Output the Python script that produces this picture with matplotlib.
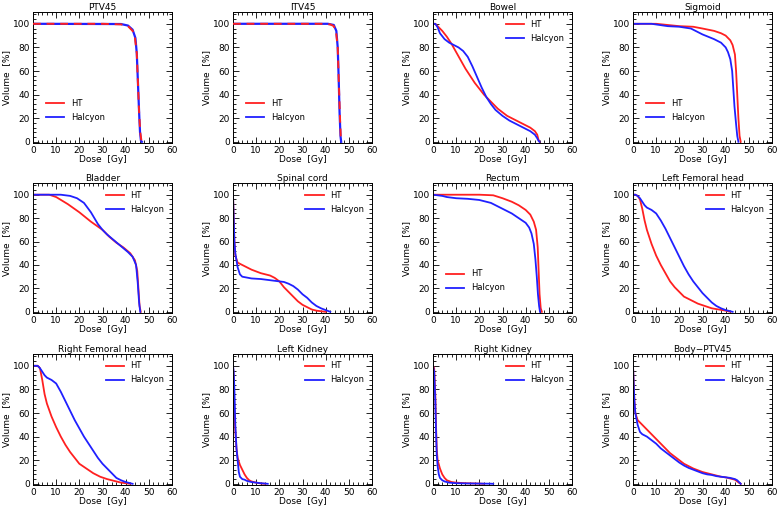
import matplotlib
matplotlib.use('Agg')
import matplotlib.pyplot as plt
from matplotlib.lines import Line2D
from matplotlib.ticker import AutoMinorLocator

# dose [Gy] / volume [%] points
ptv45_ht_d = [0, 30, 38, 41, 43, 44, 44.8, 45.3, 45.8, 46.3, 46.8, 47.2]
ptv45_ht_v = [100, 100, 99.5, 98, 94, 88, 75, 50, 25, 8, 1, 0]
ptv45_hal_d = [0, 38, 41, 43, 44.2, 44.8, 45.3, 45.8, 46.2, 46.6, 47]
ptv45_hal_v = [100, 99.8, 98.5, 95, 88, 75, 50, 25, 8, 1, 0]

itv45_ht_d = [0, 38, 42, 43.5, 44.5, 45.2, 45.6, 46.1, 46.5, 46.8]
itv45_ht_v = [100, 100, 99.5, 98, 93, 80, 55, 25, 5, 0]
itv45_hal_d = [0, 41, 43.5, 44.6, 45.2, 45.6, 46, 46.4, 46.7]
itv45_hal_v = [100, 100, 99, 94, 80, 55, 25, 5, 0]

bowel_ht_d = [0, 1, 2, 4, 6, 8, 10, 12, 14, 16, 18, 20, 22, 24, 26, 28, 30, 32, 34, 36, 38, 40, 42, 44, 45, 45.5, 46]
bowel_ht_v = [100, 100, 98, 94, 89, 83, 76, 69, 62, 56, 50, 45, 40, 36, 32, 28, 25, 22, 20, 18, 16, 14, 12, 9, 6, 2, 0]
bowel_hal_d = [0, 1, 2, 3, 5, 7, 9, 11, 13, 15, 17, 19, 21, 23, 25, 27, 30, 33, 36, 39, 42, 44, 45, 45.5, 46]
bowel_hal_v = [100, 100, 97, 92, 87, 84, 82, 80, 77, 72, 64, 55, 46, 38, 32, 27, 22, 18, 15, 12, 9, 6, 3, 1, 0]

sigmoid_ht_d = [0, 10, 20, 26, 30, 35, 38, 40, 42, 43, 44, 44.5, 45, 45.5, 46, 46.5]
sigmoid_ht_v = [100, 100, 98, 97.5, 96, 94, 92, 90, 86, 82, 74, 60, 40, 20, 5, 0]
sigmoid_hal_d = [0, 8, 15, 20, 25, 30, 35, 38, 40, 41, 42, 42.8, 43.3, 43.8, 44.5, 45, 45.5]
sigmoid_hal_v = [100, 100, 98, 97.5, 96, 91, 87, 84, 80, 76, 70, 60, 45, 30, 15, 5, 0]

bladder_ht_d = [0, 7, 10, 15, 20, 25, 30, 33, 36, 39, 42, 44, 45, 45.5, 46, 46.5]
bladder_ht_v = [100, 100, 98, 92, 85, 77, 70, 64, 59, 55, 50, 44, 35, 20, 5, 0]
bladder_hal_d = [0, 12, 16, 19, 22, 25, 28, 30, 32, 35, 38, 41, 43, 44.5, 45.2, 45.8, 46.3]
bladder_hal_v = [100, 100, 99, 97, 93, 85, 75, 70, 66, 61, 56, 51, 47, 40, 25, 8, 0]

cord_ht_d = [0, 0.3, 0.6, 1, 2, 4, 8, 12, 16, 18, 20, 22, 24, 26, 28, 30, 32, 34, 36, 38, 40]
cord_ht_v = [100, 80, 60, 48, 42, 40, 36, 33, 31, 29, 26, 21, 17, 13, 9, 6, 4, 2, 1, 0.5, 0]
cord_hal_d = [0, 0.3, 0.6, 1, 2, 3, 4, 8, 12, 16, 20, 22, 24, 26, 28, 30, 32, 34, 36, 38, 40, 42]
cord_hal_v = [100, 80, 60, 50, 38, 32, 30, 28.5, 28, 27, 26, 25.5, 24, 22, 19, 15, 12, 8, 5, 3, 1.5, 0]

rectum_ht_d = [0, 5, 20, 26, 30, 34, 37, 40, 42, 43.5, 44.5, 45.2, 45.6, 46, 46.5, 47]
rectum_ht_v = [100, 100, 100, 99.5, 97, 94, 91, 87, 83, 77, 70, 55, 35, 15, 3, 0]
rectum_hal_d = [0, 4, 6, 10, 15, 20, 25, 30, 34, 37, 40, 41.5, 42.5, 43.5, 44.2, 44.8, 45.3, 45.8, 46.2]
rectum_hal_v = [100, 99, 98, 97, 96.5, 95.5, 93, 88, 84, 80, 76, 72, 67, 58, 45, 30, 15, 5, 0]

lfem_ht_d = [0, 1, 2, 3, 4, 5, 6, 8, 10, 12, 14, 16, 18, 20, 22, 25, 28, 31, 34, 37, 40, 42]
lfem_ht_v = [100, 100, 99, 96, 88, 78, 70, 58, 48, 40, 33, 26, 21, 17, 13, 10, 7, 5, 3, 2, 1, 0]
lfem_hal_d = [0, 1, 2, 3, 4, 5, 6, 8, 10, 12, 14, 16, 18, 20, 22, 24, 26, 28, 30, 32, 34, 36, 38, 40, 42, 43]
lfem_hal_v = [100, 100, 99, 97, 94, 91, 89, 87, 84, 78, 71, 63, 55, 47, 39, 32, 26, 21, 16, 12, 8, 5, 3, 1.5, 0.5, 0]

rfem_ht_d = [0, 2, 3, 4, 5, 6, 8, 10, 12, 14, 16, 18, 20, 23, 26, 29, 32, 35, 38, 40, 42]
rfem_ht_v = [100, 100, 98, 88, 76, 68, 57, 48, 40, 33, 27, 22, 17, 13, 9, 6, 4, 2.5, 1, 0.5, 0]
rfem_hal_d = [0, 2, 3, 4, 5, 6, 8, 10, 12, 14, 16, 18, 20, 22, 24, 26, 28, 30, 32, 34, 36, 38, 40, 42, 43]
rfem_hal_v = [100, 100, 98, 95, 92, 90, 88, 85, 78, 70, 62, 54, 47, 40, 34, 28, 22, 17, 13, 9, 5, 3, 1.5, 0.5, 0]

lkid_ht_d = [0, 0.3, 0.6, 1, 1.5, 2, 3, 4, 5, 6, 7, 8, 10, 12, 14]
lkid_ht_v = [100, 90, 60, 45, 30, 22, 16, 12, 8, 5, 3, 2, 1, 0.3, 0]
lkid_hal_d = [0, 0.3, 0.6, 1, 1.5, 2, 2.5, 3, 4, 5, 6, 8, 10, 12, 14, 15]
lkid_hal_v = [100, 95, 80, 50, 30, 20, 10, 6, 4, 3.5, 2.5, 1.5, 1, 0.5, 0.2, 0]

rkid_ht_d = [0, 0.5, 1, 1.3, 1.6, 2, 3, 4, 5, 6, 8, 10, 14, 20, 22]
rkid_ht_v = [100, 98, 75, 50, 30, 20, 13, 8, 5, 3, 1.5, 1, 0.5, 0.2, 0]
rkid_hal_d = [0, 0.5, 1, 1.3, 1.6, 2, 2.5, 3, 4, 5, 7, 10, 15, 20, 25, 26]
rkid_hal_v = [100, 95, 70, 45, 25, 15, 8, 5, 3, 2, 1, 0.5, 0.3, 0.2, 0.1, 0]

body_ht_d = [0, 0.3, 0.6, 1, 2, 4, 6, 8, 10, 12, 14, 16, 18, 20, 22, 24, 26, 28, 30, 32, 34, 36, 38, 40, 42, 44, 45, 46, 46.5]
body_ht_v = [100, 85, 70, 60, 54, 50, 46, 42, 38, 34, 30, 26, 23, 20, 17, 15, 13, 11.5, 10, 9, 8, 7, 6, 5.5, 4.5, 3.5, 2, 0.5, 0]
body_hal_d = [0, 0.3, 0.6, 1, 2, 3, 4, 6, 8, 10, 12, 14, 16, 18, 20, 22, 24, 26, 28, 30, 32, 34, 36, 38, 40, 42, 44, 45, 46, 46.5]
body_hal_v = [100, 85, 70, 60, 50, 44, 42, 40, 37, 34, 30, 27, 24, 21, 18, 15.5, 13.5, 12, 10.5, 9, 8, 7.5, 6.5, 6, 5.5, 5, 4, 3, 1, 0]

titles = ['PTV45', 'ITV45', 'Bowel', 'Sigmoid',
          'Bladder', 'Spinal cord', 'Rectum', 'Left Femoral head',
          'Right Femoral head', 'Left Kidney', 'Right Kidney', 'Body\u2212PTV45']
ht = [(ptv45_ht_d, ptv45_ht_v), (itv45_ht_d, itv45_ht_v), (bowel_ht_d, bowel_ht_v), (sigmoid_ht_d, sigmoid_ht_v),
      (bladder_ht_d, bladder_ht_v), (cord_ht_d, cord_ht_v), (rectum_ht_d, rectum_ht_v), (lfem_ht_d, lfem_ht_v),
      (rfem_ht_d, rfem_ht_v), (lkid_ht_d, lkid_ht_v), (rkid_ht_d, rkid_ht_v), (body_ht_d, body_ht_v)]
hal = [(ptv45_hal_d, ptv45_hal_v), (itv45_hal_d, itv45_hal_v), (bowel_hal_d, bowel_hal_v), (sigmoid_hal_d, sigmoid_hal_v),
       (bladder_hal_d, bladder_hal_v), (cord_hal_d, cord_hal_v), (rectum_hal_d, rectum_hal_v), (lfem_hal_d, lfem_hal_v),
       (rfem_hal_d, rfem_hal_v), (lkid_hal_d, lkid_hal_v), (rkid_hal_d, rkid_hal_v), (body_hal_d, body_hal_v)]
# legend at lower left for the target-like curves
lower_left = ['PTV45', 'ITV45', 'Sigmoid', 'Rectum']

red = '#ff2020'
blue = '#2020ff'

fig = plt.figure(figsize=(7.78, 5.07), dpi=100)
lefts = [33, 233, 433, 633]
bottoms = [143, 313, 485]
heights = [131, 130, 131]

for i, t in enumerate(titles):
    r, c = divmod(i, 4)
    ax = fig.add_axes([lefts[c] / 778, 1 - bottoms[r] / 507, 139 / 778, heights[r] / 507])
    if t in ('PTV45', 'ITV45'):
        # red shows through the blue line as dashes for the target volumes
        ax.plot(*hal[i], color=blue, lw=1.6, zorder=2)
        ax.plot(*ht[i], color=red, lw=1.4, ls=(0, (4, 3)), zorder=3)
    else:
        ax.plot(*ht[i], color=red, lw=1.3)
        ax.plot(*hal[i], color=blue, lw=1.3)
    handles = [Line2D([], [], color=red, lw=1.3), Line2D([], [], color=blue, lw=1.3)]
    ax.set_xlim(0, 60)
    ax.set_ylim(-1, 110)
    ax.set_xticks([0, 10, 20, 30, 40, 50, 60])
    ax.set_yticks([0, 20, 40, 60, 80, 100])
    ax.xaxis.set_minor_locator(AutoMinorLocator(5))
    ax.yaxis.set_minor_locator(AutoMinorLocator(5))
    ax.tick_params(which='both', direction='in', top=True, right=True, labelsize=6.5, pad=2)
    ax.tick_params(which='major', length=4, width=0.6)
    ax.tick_params(which='minor', length=2, width=0.6)
    for s in ax.spines.values():
        s.set_linewidth(0.7)
    ax.set_title(t, fontsize=6.5, pad=1.5)
    ax.set_xlabel('Dose  [Gy]', fontsize=6.5, labelpad=0)
    ax.set_ylabel('Volume  [%]', fontsize=6.5, labelpad=1)
    if t in lower_left:
        ax.legend(handles, ['HT', 'Halcyon'], loc='lower left', bbox_to_anchor=(0.04, 0.1), frameon=False,
                  fontsize=6, handlelength=2.2, labelspacing=0.6)
    else:
        ax.legend(handles, ['HT', 'Halcyon'], loc='upper right', frameon=False,
                  fontsize=6, handlelength=2.2, labelspacing=0.6)

fig.savefig('out.png', dpi=100)
